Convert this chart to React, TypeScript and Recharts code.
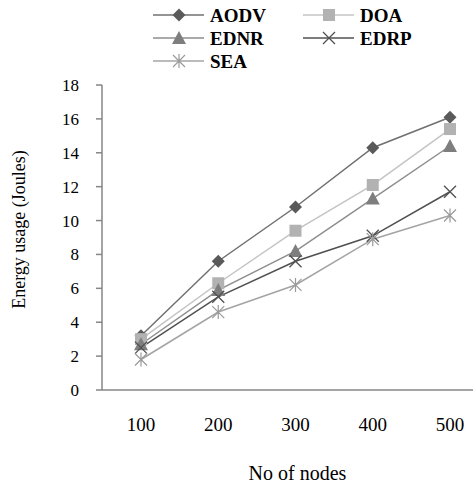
import React from 'react';
import { LineChart, Line, XAxis, YAxis } from 'recharts';

const nodes = ['100', '200', '300', '400', '500'];
const aodv = [3.2, 7.6, 10.8, 14.3, 16.1];
const doa = [3.0, 6.3, 9.4, 12.1, 15.4];
const ednr = [2.7, 5.9, 8.2, 11.3, 14.4];
const edrp = [2.5, 5.5, 7.6, 9.1, 11.7];
const sea = [1.8, 4.6, 6.2, 8.9, 10.3];
const yTicks = [0, 2, 4, 6, 8, 10, 12, 14, 16, 18];

const FONT = "'Liberation Serif', 'Times New Roman', serif";

type Shape = 'diamond' | 'square' | 'triangle' | 'cross' | 'star';

const series: { key: string; name: string; values: number[]; line: string; mark: string; shape: Shape }[] = [
  { key: 'aodv', name: 'AODV', values: aodv, line: '#707070', mark: '#5a5a5a', shape: 'diamond' },
  { key: 'doa', name: 'DOA', values: doa, line: '#c4c4c4', mark: '#b2b2b2', shape: 'square' },
  { key: 'ednr', name: 'EDNR', values: ednr, line: '#8e8e8e', mark: '#7e7e7e', shape: 'triangle' },
  { key: 'edrp', name: 'EDRP', values: edrp, line: '#505050', mark: '#505050', shape: 'cross' },
  { key: 'sea', name: 'SEA', values: sea, line: '#a4a4a4', mark: '#9a9a9a', shape: 'star' },
];

const data = nodes.map((n, i) => {
  const row: { [k: string]: string | number } = { name: n };
  series.forEach(s => {
    row[s.key] = s.values[i];
  });
  return row;
});

const Marker = ({ cx, cy, shape, color }: { cx: number; cy: number; shape: Shape; color: string }) => {
  const r = 6.5;
  switch (shape) {
    case 'diamond':
      return <polygon points={`${cx},${cy - r} ${cx + r},${cy} ${cx},${cy + r} ${cx - r},${cy}`} fill={color} />;
    case 'square':
      return <rect x={cx - 6} y={cy - 6} width={12} height={12} fill={color} />;
    case 'triangle':
      return <polygon points={`${cx},${cy - 7} ${cx + 7},${cy + 6} ${cx - 7},${cy + 6}`} fill={color} />;
    case 'cross':
      return (
        <path d={`M${cx - 6},${cy - 6}L${cx + 6},${cy + 6}M${cx - 6},${cy + 6}L${cx + 6},${cy - 6}`} stroke={color} strokeWidth={1.3} />
      );
    default:
      return (
        <path
          d={`M${cx - 6},${cy - 6}L${cx + 6},${cy + 6}M${cx - 6},${cy + 6}L${cx + 6},${cy - 6}M${cx},${cy - 7}L${cx},${cy + 7}`}
          stroke={color}
          strokeWidth={1.2}
        />
      );
  }
};

const legendPos = [
  { x: 153, y: 15 },
  { x: 303, y: 15 },
  { x: 153, y: 38 },
  { x: 303, y: 38 },
  { x: 153, y: 61 },
];

const LegendBox = () => (
  <svg width={473} height={80} style={{ position: 'absolute', left: 0, top: 0, pointerEvents: 'none' }}>
    {series.map((s, i) => {
      const p = legendPos[i];
      return (
        <g key={s.key}>
          <line x1={p.x} y1={p.y} x2={p.x + 51} y2={p.y} stroke={s.line} strokeWidth={1.5} />
          <Marker cx={p.x + 26} cy={p.y} shape={s.shape} color={s.mark} />
          <text
            x={p.x + 57}
            y={p.y + 7}
            style={{ fontFamily: FONT, fontSize: 19, fontWeight: 'bold' }}
            fill="#000"
          >
            {s.name}
          </text>
        </g>
      );
    })}
  </svg>
);

const YLabel = (props: any) => {
  const vb = props.viewBox || { x: 42, y: 85, width: 60, height: 305 };
  const cx = vb.x - 23;
  const cy = vb.y + vb.height / 2 - 8;
  return (
    <text
      x={cx}
      y={cy}
      transform={`rotate(-90, ${cx}, ${cy})`}
      textAnchor="middle"
      dominantBaseline="central"
      style={{ fontFamily: FONT, fontSize: 18 }}
      fill="#000"
    >
      Energy usage (Joules)
    </text>
  );
};

export default function App() {
  return (
    <div style={{ position: 'absolute', left: 0, top: 0, width: 473, height: 488, background: '#fff' }}>
      <LineChart width={473} height={488} data={data} margin={{ top: 85, right: 0, bottom: 0, left: 42 }}>
        <XAxis
          dataKey="name"
          padding={{ left: 39, right: 23 }}
          tickLine={false}
          tickSize={0}
          tickMargin={28}
          height={98}
          axisLine={{ stroke: '#868686', strokeWidth: 1.5 }}
          tick={{ fill: '#000', fontSize: 19, fontFamily: FONT }}
          label={{ value: 'No of nodes', position: 'insideBottom', offset: 8, dx: 10, fill: '#000', fontSize: 20, fontFamily: FONT }}
        />
        <YAxis
          domain={[0, 18]}
          ticks={yTicks}
          width={60}
          tickSize={6}
          tickMargin={17}
          interval={0}
          axisLine={{ stroke: '#868686', strokeWidth: 1.5 }}
          tickLine={{ stroke: '#868686', strokeWidth: 1.5 }}
          tick={{ fill: '#000', fontSize: 17, fontFamily: FONT }}
          label={<YLabel />}
        />
        {series.map(s => (
          <Line
            key={s.key}
            dataKey={s.key}
            name={s.name}
            stroke={s.line}
            strokeWidth={1.5}
            isAnimationActive={false}
            dot={(p: any) => <Marker key={`${s.key}-${p.index}`} cx={p.cx} cy={p.cy} shape={s.shape} color={s.mark} />}
            activeDot={false}
          />
        ))}
      </LineChart>
      <LegendBox />
    </div>
  );
}
